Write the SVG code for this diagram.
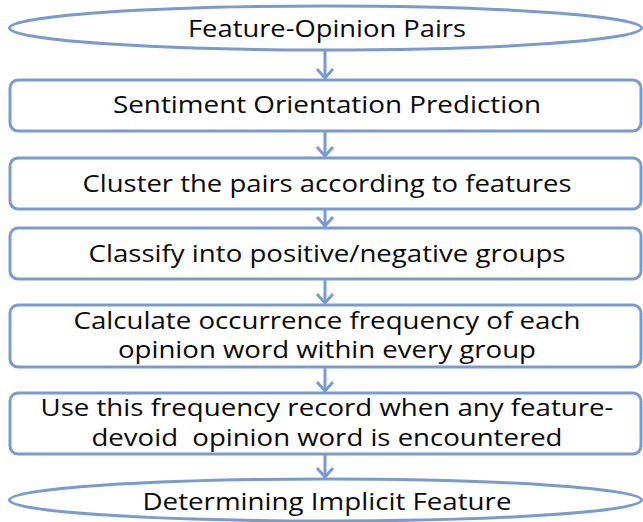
<svg xmlns="http://www.w3.org/2000/svg" width="643" height="522" viewBox="0 0 643 522">
  <style>
    .shape { fill: #ffffff; stroke: #7b9bcf; stroke-width: 3; }
    .label { font-family: "Open Sans", "Noto Sans", "Liberation Sans", sans-serif; font-size: 23px; fill: #0a0a0a; text-anchor: middle; }
    .link { fill: none; stroke: #7b9bcf; stroke-width: 3; }
  </style>
  <defs>
    <!-- open chevron head, tip at the end of the line -->
    <marker id="chevron" viewBox="-12 -11 14 22" markerWidth="14" markerHeight="22" refX="0" refY="0" orient="auto" markerUnits="userSpaceOnUse">
      <polyline points="-9,-8 0,0 -9,8" fill="none" stroke="#7b9bcf" stroke-width="3"/>
    </marker>
  </defs>
  <rect width="643" height="522" fill="#ffffff"/>

  <g id="connectors">
    <line class="link" x1="325" y1="50" x2="325" y2="78" marker-end="url(#chevron)"/>
    <line class="link" x1="325" y1="131" x2="325" y2="156" marker-end="url(#chevron)"/>
    <line class="link" x1="325" y1="209" x2="325" y2="226" marker-end="url(#chevron)"/>
    <line class="link" x1="325" y1="279" x2="325" y2="303" marker-end="url(#chevron)"/>
    <line class="link" x1="325" y1="367" x2="325" y2="391" marker-end="url(#chevron)"/>
    <line class="link" x1="325" y1="454" x2="325" y2="477" marker-end="url(#chevron)"/>
  </g>

  <g id="start">
    <ellipse class="shape" cx="325.5" cy="28" rx="316" ry="22"/>
    <text class="label" x="327" y="37" textLength="278" lengthAdjust="spacingAndGlyphs">Feature-Opinion Pairs</text>
  </g>

  <g id="step1">
    <rect class="shape" x="10" y="80" width="631" height="51" rx="8"/>
    <text class="label" x="327" y="113" textLength="428" lengthAdjust="spacingAndGlyphs">Sentiment Orientation Prediction</text>
  </g>

  <g id="step2">
    <rect class="shape" x="10" y="158" width="631" height="51" rx="8"/>
    <text class="label" x="327" y="192" textLength="489" lengthAdjust="spacingAndGlyphs">Cluster the pairs according to features</text>
  </g>

  <g id="step3">
    <rect class="shape" x="10" y="228" width="631" height="51" rx="8"/>
    <text class="label" x="327" y="262" textLength="477" lengthAdjust="spacingAndGlyphs">Classify into positive/negative groups</text>
  </g>

  <g id="step4">
    <rect class="shape" x="10" y="305" width="631" height="62" rx="8"/>
    <text class="label" x="327" y="329" textLength="507" lengthAdjust="spacingAndGlyphs">Calculate occurrence frequency of each</text>
    <text class="label" x="327" y="358" textLength="418" lengthAdjust="spacingAndGlyphs">opinion word within every group</text>
  </g>

  <g id="step5">
    <rect class="shape" x="10" y="393" width="631" height="61" rx="8"/>
    <text class="label" x="327" y="416" textLength="573" lengthAdjust="spacingAndGlyphs">Use this frequency record when any feature-</text>
    <text class="label" x="327" y="446" textLength="471" lengthAdjust="spacingAndGlyphs" xml:space="preserve">devoid  opinion word is encountered</text>
  </g>

  <g id="end">
    <ellipse class="shape" cx="325.5" cy="500" rx="316" ry="21"/>
    <text class="label" x="327" y="510" textLength="369" lengthAdjust="spacingAndGlyphs">Determining Implicit Feature</text>
  </g>
</svg>
